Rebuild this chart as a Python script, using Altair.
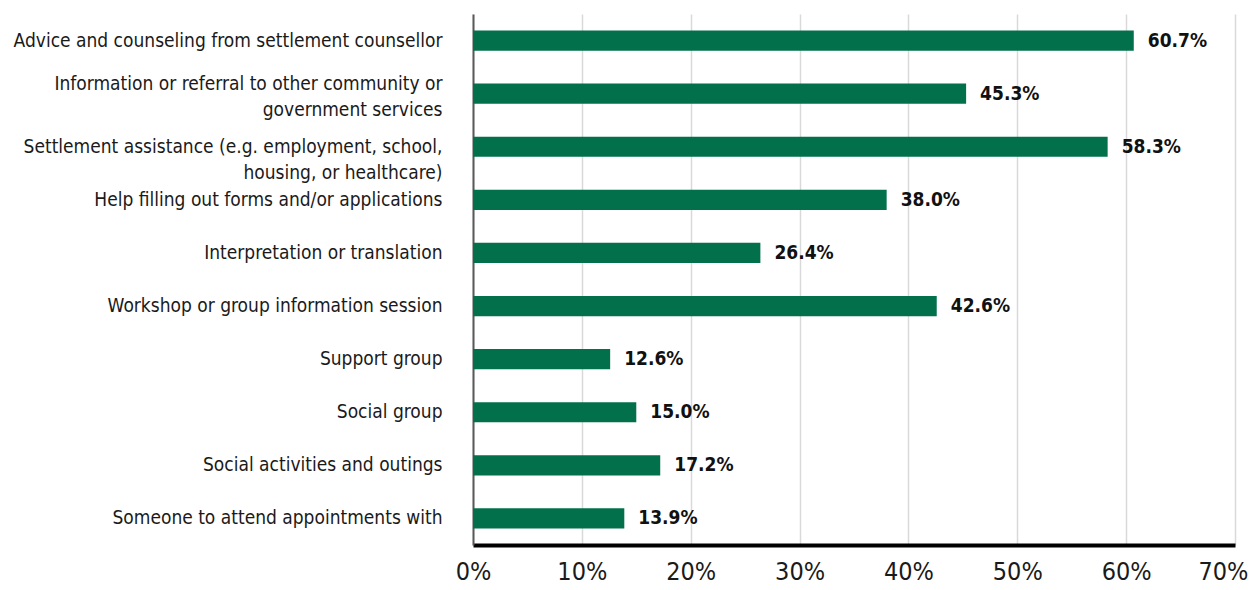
import altair as alt
import pandas as pd

categories = [
    "Advice and counseling from settlement counsellor",
    "Information or referral to other community or|government services",
    "Settlement assistance (e.g. employment, school,|housing, or healthcare)",
    "Help filling out forms and/or applications",
    "Interpretation or translation",
    "Workshop or group information session",
    "Support group",
    "Social group",
    "Social activities and outings",
    "Someone to attend appointments with",
]
values = [60.7, 45.3, 58.3, 38.0, 26.4, 42.6, 12.6, 15.0, 17.2, 13.9]
x_ticks = [0, 10, 20, 30, 40, 50, 60, 70]

df = pd.DataFrame({"category": categories, "value": values})

FONT = "'DejaVu Sans Condensed', 'Liberation Sans Narrow', Roboto, sans-serif"
GREEN = "#02704a"

base = alt.Chart(df).transform_calculate(
    label="format(datum.value, '.1f') + '%'"
).encode(
    y=alt.Y(
        "category:N",
        sort=None,
        scale=alt.Scale(paddingInner=0.62, paddingOuter=0.31),
        axis=alt.Axis(
            title=None,
            labelExpr="split(datum.label, '|')",
            labelFont=FONT,
            labelFontSize=19,
            labelColor="#1a1a1a",
            labelLimit=0,
            labelPadding=31,
            labelLineHeight=26,
            labelOffset={"condition": {"test": "indexof(datum.value, 'Information') == 0", "value": -10}, "value": 0},
            ticks=False,
            domainColor="#595959",
            domainWidth=2,
            grid=False,
        ),
    ),
)

bars = base.mark_bar(color=GREEN).encode(
    x=alt.X(
        "value:Q",
        scale=alt.Scale(domain=[0, 70], nice=False),
        axis=alt.Axis(
            title=None,
            values=x_ticks,
            labelExpr="datum.value + '%'",
            labelFont=FONT,
            labelFontSize=25,
            labelColor="#1a1a1a",
            labelPadding=14,
            labelFlush=False,
            labelOffset={"condition": {"test": "datum.value >= 70", "value": -12}, "value": 0},
            ticks=False,
            domainColor="#000000",
            domainWidth=4,
            grid=True,
            gridColor="#d9d9d9",
            gridWidth=1.5,
        ),
    )
)

text = base.mark_text(
    align="left", baseline="middle", dx=14, font=FONT, fontSize=19,
    fontWeight="bold", color="#111111"
).encode(
    x="value:Q",
    text="label:N",
)

chart = (bars + text).properties(
    width=762,
    height=531,
    padding={"left": 465, "top": 6, "right": 17, "bottom": 40},
    autosize=alt.AutoSizeParams(type="none"),
).configure_view(stroke=None)

chart.save("out.html", embed_options={"renderer": "svg", "actions": False})
